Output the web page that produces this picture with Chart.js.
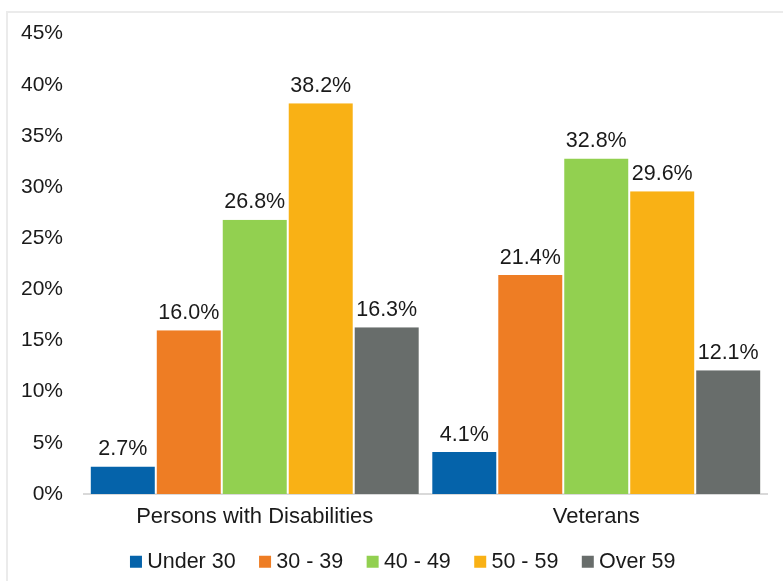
<!DOCTYPE html>
<html>
<head>
<meta charset="utf-8">
<script src="https://cdn.jsdelivr.net/npm/chart.js@4/dist/chart.umd.min.js"></script>
<style>
  html, body { margin: 0; padding: 0; background: #fff; }
  #frame { position: absolute; left: 6px; top: 11px; width: 800px; height: 600px;
           border-top: 2px solid #ebebeb; border-left: 2px solid #ebebeb; }
  #myChart { position: absolute; left: 0; top: 0; }
</style>
</head>
<body>
<div id="frame"></div>
<canvas id="myChart" width="783" height="581"></canvas>
<script>
var categories = ["Persons with Disabilities", "Veterans"];
var seriesNames = ["Under 30", "30 - 39", "40 - 49", "50 - 59", "Over 59"];
var under30 = [2.7, 4.1];
var age30to39 = [16.0, 21.4];
var age40to49 = [26.8, 32.8];
var age50to59 = [38.2, 29.6];
var over59 = [16.3, 12.1];
var barColors = ["#0563aa", "#ee7d24", "#92d050", "#f9b115", "#686d6b"];

var seriesValues = [under30, age30to39, age40to49, age50to59, over59];
var font = "'Liberation Sans', Arial, sans-serif";

// labels on top of each bar
var barLabels = {
    id: 'barLabels',
    afterDatasetsDraw: function (chart) {
        var ctx = chart.ctx;
        ctx.save();
        ctx.font = "21.5px " + font;
        ctx.fillStyle = "#1a1a1a";
        ctx.textAlign = "center";
        ctx.textBaseline = "alphabetic";
        chart.data.datasets.forEach(function (ds, i) {
            chart.getDatasetMeta(i).data.forEach(function (bar, j) {
                ctx.fillText(ds.data[j].toFixed(1) + "%", bar.x, bar.y - 11.5);
            });
        });
        ctx.restore();
    }
};

// legend sits a bit right of the canvas centre in the original
var legendShift = {
    id: 'legendShift',
    afterLayout: function (chart) {
        chart.legend.left += 22;
        chart.legend.right += 22;
    }
};

var datasets = seriesNames.map(function (name, i) {
    return {
        label: name,
        data: seriesValues[i],
        backgroundColor: barColors[i],
        borderColor: "rgba(255,255,255,0.5)",
        borderWidth: { left: 1, right: 1, top: 0, bottom: 0 },
        categoryPercentage: 0.966,
        barPercentage: 1.0
    };
});

new Chart(document.getElementById('myChart'), {
    type: 'bar',
    data: { labels: categories, datasets: datasets },
    plugins: [barLabels, legendShift],
    options: {
        responsive: false,
        animation: false,
        devicePixelRatio: 1,
        layout: { padding: { top: 21.5, left: 0, right: 16, bottom: -1.5 } },
        plugins: {
            tooltip: { enabled: false },
            legend: {
                position: 'bottom',
                labels: {
                    usePointStyle: true,
                    pointStyle: 'rect',
                    boxWidth: 1,
                    boxHeight: 12,
                    padding: 5,
                    color: "#1a1a1a",
                    font: { family: font, size: 21.5 },
                    generateLabels: function (chart) {
                        var items = Chart.defaults.plugins.legend.labels.generateLabels(chart);
                        items.forEach(function (it, i) {
                            it.lineWidth = 0;
                            // extra gap between legend entries
                            if (i < items.length - 1) it.text = it.text + "    ";
                        });
                        return items;
                    }
                }
            }
        },
        scales: {
            x: {
                grid: { display: false, drawTicks: false },
                border: { color: "#d9d9d9", width: 2 },
                ticks: { color: "#1a1a1a", padding: 10, font: { family: font, size: 22 } },
                afterFit: function (scale) { scale.height = 52; }
            },
            y: {
                min: 0,
                max: 45,
                grid: { display: false, drawTicks: false },
                border: { display: false },
                ticks: {
                    stepSize: 5,
                    color: "#1a1a1a",
                    padding: 21,
                    font: { family: font, size: 21 },
                    callback: function (v) { return v + "%"; }
                },
                afterFit: function (scale) { scale.width = 84; }
            }
        }
    }
});
</script>
</body>
</html>
